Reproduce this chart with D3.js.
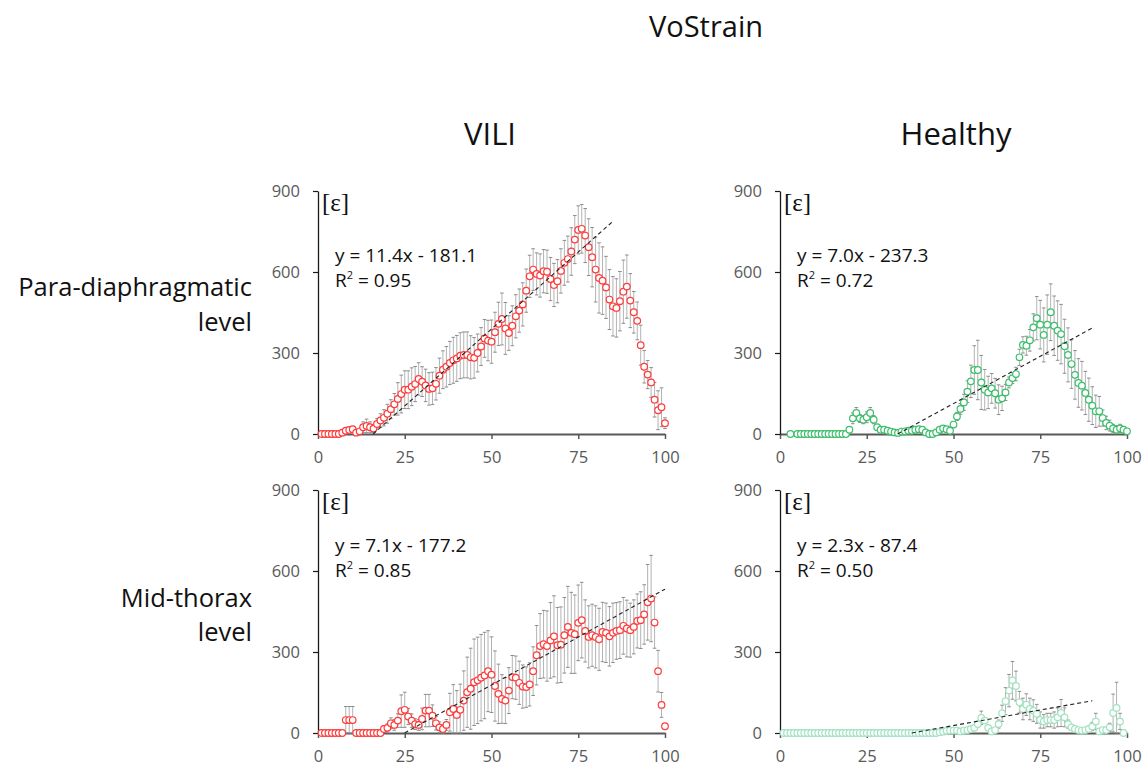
<!DOCTYPE html>
<html>
<head>
<meta charset="utf-8">
<script src="https://cdn.jsdelivr.net/npm/d3@7"></script>
<style>
  body { margin: 0; background: #fff; }
  text { font-family: "Open Sans", "Noto Sans", sans-serif; }
</style>
</head>
<body>
<div id="chart"></div>
<script>
// DATA -----------------------------------------------------------------
const position = d3.range(1, 101); // % of lung height, 1..100

const viliPara = [
  0,0,0,0,0,0,5,12,15,18,
  5,10,25,30,25,20,37,50,60,75,
  92,110,130,148,164,164,175,185,204,194,
  180,167,169,186,216,238,249,263,273,280,
  290,293,293,284,282,300,324,354,346,342,
  377,408,426,391,374,401,436,457,480,531,
  584,609,593,587,603,601,574,552,566,604,
  634,648,676,720,756,760,735,692,655,609,
  578,568,543,498,473,467,492,527,546,494,
  451,419,329,249,220,191,127,88,99,40];
const viliParaErr = [
  0,0,0,0,0,0,3,5,6,6,
  5,5,20,25,20,15,20,25,30,35,
  35,40,60,70,70,70,70,65,60,55,
  60,60,60,60,65,70,75,80,85,85,
  85,85,85,80,75,70,70,70,75,80,
  74,80,96,96,64,74,80,80,80,80,
  78,77,78,80,80,80,80,80,80,82,
  83,85,88,89,89,90,100,105,110,120,
  130,125,115,111,110,108,110,117,117,100,
  77,70,74,60,52,55,64,72,72,20];

const healthyPara = [
  null,null,0,null,0,0,0,0,0,0,
  0,0,0,0,0,0,0,0,0,16,
  58,78,58,53,62,78,53,25,16,16,
  12,9,6,4,9,10,12,12,16,18,
  16,6,0,0,6,16,21,18,12,35,
  65,93,117,157,195,237,237,191,164,154,
  169,151,127,132,154,191,207,222,284,330,
  327,347,395,429,405,367,405,451,401,383,
  370,325,293,259,219,189,179,152,127,105,
  84,84,59,41,31,21,16,21,16,10];
const healthyParaErr = [
  0,0,0,0,0,0,0,0,0,0,
  0,0,0,0,0,0,0,0,0,5,
  20,20,15,15,20,20,15,5,5,5,
  5,5,5,5,5,5,5,8,8,8,
  5,5,5,5,10,10,10,5,5,10,
  15,20,30,40,60,90,110,100,75,60,
  55,55,55,45,30,20,20,25,30,30,
  35,40,50,80,90,100,110,105,110,110,
  110,100,100,90,90,90,90,80,80,70,
  60,55,30,25,20,15,15,15,10,5];

const viliMid = [
  0,0,0,0,0,0,0,48,48,48,
  0,0,0,0,0,0,0,0,15,19,
  36,30,46,81,86,61,46,33,30,52,
  83,83,64,36,21,15,30,77,89,67,
  86,120,151,164,188,195,205,213,229,216,
  174,145,126,120,157,207,205,186,172,170,
  180,229,288,322,329,322,343,358,325,327,
  362,393,371,366,408,418,378,356,362,356,
  347,374,371,358,371,378,381,397,387,381,
  393,415,418,439,484,498,409,229,104,25];
const viliMidErr = [
  0,0,0,0,0,0,0,50,50,50,
  0,0,0,0,0,0,0,0,10,15,
  20,20,25,60,65,30,25,20,20,40,
  60,60,40,25,20,15,20,70,90,90,
  95,110,130,150,160,160,160,160,150,140,
  130,110,90,85,85,80,80,80,80,75,
  80,90,110,120,125,130,140,150,140,140,
  140,150,150,145,140,140,115,115,115,115,
  115,110,110,110,110,105,105,105,105,100,
  100,100,105,110,140,160,95,77,46,10];

const healthyMid = [
  0,0,0,0,0,0,0,0,0,0,
  0,0,0,0,0,0,0,0,0,0,
  0,0,0,0,0,0,0,0,0,0,
  0,0,0,0,0,0,0,0,0,0,
  0,0,0,0,0,3,5,8,9,9,
  9,6,9,11,15,19,33,56,46,19,
  6,11,33,73,118,157,195,174,114,89,
  105,89,83,71,48,43,48,48,48,58,
  74,58,33,21,15,11,9,11,15,24,
  43,6,11,11,21,74,93,43,0,null];
const healthyMidErr = [
  0,0,0,0,0,0,0,0,0,0,
  0,0,0,0,0,0,0,0,0,0,
  0,0,0,0,0,0,0,0,0,0,
  0,0,0,0,0,0,0,0,0,0,
  0,0,0,0,0,0,0,0,0,0,
  0,0,0,0,0,5,10,25,10,5,
  5,5,15,30,50,60,70,55,40,40,
  40,40,40,35,30,25,25,25,30,35,
  50,35,15,5,5,5,5,5,10,15,
  30,5,5,5,15,70,95,30,0,0];

const trendSlope = [11.4, 7.0, 7.1, 2.3];
const trendIntercept = [-181.1, -237.3, -177.2, -87.4];
const trendEnd = [85, 90, 100, 90];
const rSquared = [0.95, 0.72, 0.85, 0.50];

const groups = ['VILI', 'Healthy'];
const levels = [['Para-diaphragmatic', 'level'], ['Mid-thorax', 'level']];
const yTicks = [0, 300, 600, 900];
const xTicks = [0, 25, 50, 75, 100];

// CHART INIT -----------------------------------------------------------
const width = 1145, height = 767;
const svg = d3.select('#chart')
  .append('svg')
  .attr('width', width)
  .attr('height', height);

const panelLeft = [318, 780];
const panelTop = [191, 490];
const panelW = 347, panelH = 243;

const panels = [
  {row: 0, col: 0, values: viliPara, err: viliParaErr, color: '#ff3b3b'},
  {row: 0, col: 1, values: healthyPara, err: healthyParaErr, color: '#3cbf6b'},
  {row: 1, col: 0, values: viliMid, err: viliMidErr, color: '#ff3b3b'},
  {row: 1, col: 1, values: healthyMid, err: healthyMidErr, color: '#a3e2c2'}
];

// titles
svg.append('text')
  .attr('x', 706).attr('y', 37)
  .attr('text-anchor', 'middle')
  .style('font-size', '29px').attr('fill', '#111')
  .text('VoStrain');

groups.forEach((g, i) => {
  svg.append('text')
    .attr('x', [490, 956][i]).attr('y', 145)
    .attr('text-anchor', 'middle')
    .style('font-size', '31px').attr('fill', '#111')
    .text(g);
});

// row labels, two lines each, right aligned
const rowLine1 = [296, 607], rowLine2 = [331, 641];
levels.forEach((lines, i) => {
  svg.append('text')
    .attr('x', 252).attr('y', rowLine1[i])
    .attr('text-anchor', 'end')
    .style('font-size', '25.5px').attr('fill', '#111')
    .text(lines[0]);
  svg.append('text')
    .attr('x', 252).attr('y', rowLine2[i])
    .attr('text-anchor', 'end')
    .style('font-size', '25.5px').attr('fill', '#111')
    .text(lines[1]);
});

// PANELS ---------------------------------------------------------------
panels.forEach((p, i) => {
  const g = svg.append('g')
    .attr('transform', 'translate(' + panelLeft[p.col] + ',' + panelTop[p.row] + ')');

  const xScale = d3.scaleLinear().domain([0, 100]).range([0, panelW]);
  const yScale = d3.scaleLinear().domain([0, 900]).range([panelH, 0]);

  const yAxis = d3.axisLeft(yScale)
    .tickValues(yTicks).tickSize(5).tickSizeOuter(0).tickPadding(13);
  const xAxis = d3.axisBottom(xScale)
    .tickValues(xTicks).tickSize(5).tickSizeOuter(0).tickPadding(12);

  const gx = g.append('g')
    .attr('transform', 'translate(0,' + panelH + ')')
    .call(xAxis);
  gx.select('.domain').attr('stroke', '#595959').attr('stroke-width', 1.8);
  gx.selectAll('.tick line').attr('stroke', '#595959').attr('stroke-width', 1.5);

  const gy = g.append('g').call(yAxis);
  gy.select('.domain').attr('stroke', '#1a1a1a').attr('stroke-width', 1.3);
  gy.selectAll('.tick line').attr('stroke', '#1a1a1a').attr('stroke-width', 1.2);

  g.selectAll('.tick text')
    .style('font-size', '16.5px')
    .style('font-family', '"Open Sans", sans-serif')
    .attr('fill', '#595959');

  // unit label
  g.append('text')
    .attr('x', 4).attr('y', 20)
    .style('font-family', '"Liberation Serif", "DejaVu Serif", serif')
    .style('font-size', '25px').attr('fill', '#111')
    .text('[ε]');

  // equation
  const eqY = p.row === 0 ? 71 : 62;
  const b = trendIntercept[i];
  g.append('text')
    .attr('x', 17).attr('y', eqY)
    .style('font-size', '19px').attr('fill', '#111')
    .text('y = ' + trendSlope[i].toFixed(1) + 'x ' + (b < 0 ? '- ' : '+ ') + Math.abs(b).toFixed(1));
  const r2 = g.append('text')
    .attr('x', 17).attr('y', eqY + 25)
    .style('font-size', '19px').attr('fill', '#111');
  r2.append('tspan').text('R');
  r2.append('tspan').attr('dy', -8).style('font-size', '11px').text('2');
  r2.append('tspan').attr('dy', 8).text(' = ' + rSquared[i].toFixed(2));

  const pts = position
    .map((x, k) => ({x: x, v: p.values[k], e: p.err[k]}))
    .filter(d => d.v !== null);

  // error bars
  const bars = g.append('g').selectAll('g')
    .data(pts.filter(d => d.e > 0))
    .enter().append('g');
  bars.append('line')
    .attr('x1', d => xScale(d.x)).attr('x2', d => xScale(d.x))
    .attr('y1', d => yScale(Math.max(0, d.v - d.e)))
    .attr('y2', d => yScale(d.v + d.e))
    .attr('stroke', '#b3b3b3').attr('stroke-width', 1);
  bars.selectAll('.cap')
    .data(d => [d.v + d.e, Math.max(0, d.v - d.e)].map(v => ({x: d.x, v: v})))
    .enter().append('line')
    .attr('class', 'cap')
    .attr('x1', d => xScale(d.x) - 1.8).attr('x2', d => xScale(d.x) + 1.8)
    .attr('y1', d => yScale(d.v)).attr('y2', d => yScale(d.v))
    .attr('stroke', '#8c8c8c').attr('stroke-width', 1);

  // points
  g.append('g').selectAll('circle')
    .data(pts)
    .enter().append('circle')
    .attr('cx', d => xScale(d.x))
    .attr('cy', d => yScale(d.v))
    .attr('r', 3.3)
    .attr('fill', '#fff')
    .attr('stroke', p.color)
    .attr('stroke-width', 1.2);

  // trend line
  const x0 = -trendIntercept[i] / trendSlope[i];
  const trend = [x0, trendEnd[i]].map(x => [x, trendSlope[i] * x + trendIntercept[i]]);
  g.append('path')
    .datum(trend)
    .attr('d', d3.line().x(d => xScale(d[0])).y(d => yScale(d[1])))
    .attr('fill', 'none')
    .attr('stroke', '#222')
    .attr('stroke-width', 1.1)
    .attr('stroke-dasharray', '4,3');
});
</script>
</body>
</html>
